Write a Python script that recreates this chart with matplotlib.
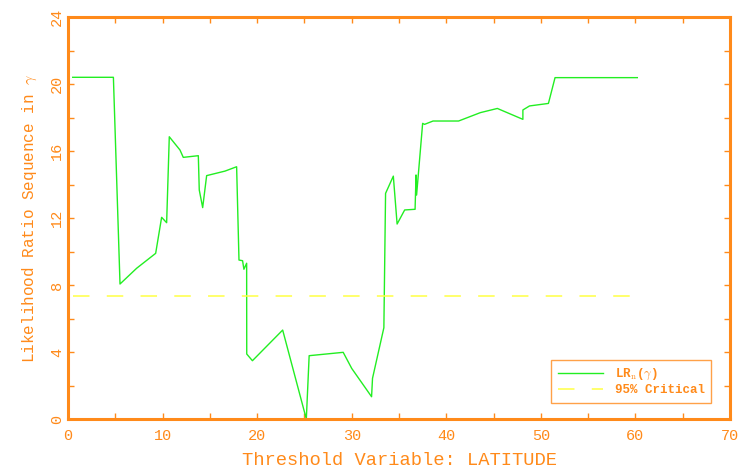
import matplotlib
matplotlib.use('Agg')
import matplotlib.pyplot as plt
from matplotlib.ticker import MultipleLocator

# likelihood ratio sequence against threshold (latitude)
gamma = [0.5, 4.8, 5.5, 7.26, 9.27, 9.9, 10.43, 10.71, 11.84, 12.19, 13.78,
         13.88, 14.24, 14.66, 16.6, 17.83, 18.08, 18.46, 18.6, 18.89, 18.9,
         19.5, 22.7, 25.2, 25.5, 29.1, 30.0, 32.1, 32.2, 33.4, 33.58, 34.4,
         34.8, 35.6, 36.7, 36.8, 36.86, 37.5, 37.7, 38.6, 41.3, 43.6, 45.4,
         48.1, 48.1, 48.8, 50.8, 51.5, 60.2]
lr_stat = [20.4, 20.4, 8.06, 9.0, 9.89, 12.04, 11.72, 16.85, 16.06, 15.62,
           15.72, 13.67, 12.62, 14.53, 14.8, 15.06, 9.49, 9.45, 8.94, 9.3,
           3.88, 3.48, 5.31, 0.0, 3.78, 3.98, 3.02, 1.33, 2.43, 5.45, 13.47,
           14.5, 11.64, 12.48, 12.52, 14.57, 13.37, 17.65, 17.59, 17.79,
           17.79, 18.29, 18.54, 17.89, 18.45, 18.69, 18.84, 20.38, 20.38]
crit_x = [0.5, 59.5]
crit_value = 7.35

orange = '#ff8a1a'
plt.rcParams['font.family'] = ['Liberation Mono', 'DejaVu Sans']
plt.rcParams['mathtext.fontset'] = 'cm'

fig = plt.figure(figsize=(7.44, 4.72), dpi=100)
ax = fig.add_axes([68 / 744, 53 / 472, 662 / 744, 402 / 472])

ax.plot(gamma, lr_stat, color='#22ee22', lw=1.0, label=r'LR$_\mathrm{n}$($\gamma$)')
ax.plot(crit_x, [crit_value, crit_value], color='#ffff44', lw=1.1,
        dashes=(10.8, 11.3), label='95% Critical')

ax.set_xlim(0, 70)
ax.set_ylim(0, 24)
ax.xaxis.set_major_locator(MultipleLocator(10))
ax.xaxis.set_minor_locator(MultipleLocator(5))
ax.yaxis.set_major_locator(MultipleLocator(4))
ax.yaxis.set_minor_locator(MultipleLocator(2))
ax.tick_params(which='both', direction='in', top=True, right=True,
               color=orange, labelcolor=orange, length=4, width=1)
ax.tick_params(axis='x', labelsize=11, pad=7)
ax.tick_params(axis='y', labelsize=11, pad=3, labelrotation=90)
for lab in ax.get_yticklabels():
    lab.set_va('center')
for side in ax.spines.values():
    side.set_color(orange)
    side.set_linewidth(2.2)

ax.set_xlabel('Threshold Variable: LATITUDE', color=orange, fontsize=13.5, labelpad=7)
ax.set_ylabel(r'Likelihood Ratio Sequence in $\gamma$', color=orange, fontsize=11.5, labelpad=8)

leg = ax.legend(loc='lower right', bbox_to_anchor=(0.972, 0.04),
                prop={'size': 9, 'weight': 'bold'},
                frameon=True, fancybox=False, handlelength=3.6, borderpad=0.55,
                labelspacing=0.15, handletextpad=0.9, borderaxespad=0)
leg.get_frame().set_edgecolor(orange)
leg.get_frame().set_linewidth(1.0)
for txt in leg.get_texts():
    txt.set_color(orange)

fig.savefig('out.png', dpi=100)
